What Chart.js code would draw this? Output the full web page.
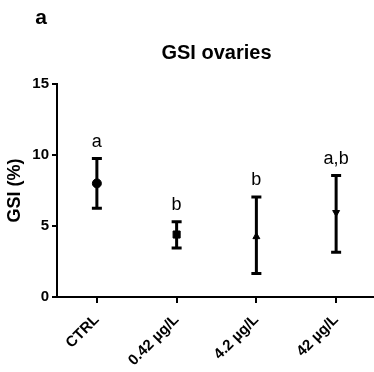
<!DOCTYPE html>
<html>
<head>
<meta charset="utf-8">
<script src="https://cdn.jsdelivr.net/npm/chart.js@4/dist/chart.umd.min.js"></script>
<style>
  html, body { margin: 0; padding: 0; background: #fff; overflow: hidden; }
  /* a bit wider than the window so the x axis runs off the right edge, as in the cropped original */
  #wrap { position: relative; width: 382px; height: 372px; }
</style>
</head>
<body>
<div id="wrap"><canvas id="gsiChart"></canvas></div>
<script>
// Data (mean and error bar ends, GSI %)
const groups = ['CTRL', '0.42 µg/L', '4.2 µg/L', '42 µg/L'];
const means = [8.0, 4.4, 4.25, 5.95];
const upper = [9.75, 5.3, 7.05, 8.55];
const lower = [6.25, 3.45, 1.65, 3.15];
const letters = ['a', 'b', 'b', 'a,b'];
const yTicks = [0, 5, 10, 15];

const FONT = '"Liberation Sans", Arial, sans-serif';

// Error bars with caps, drawn through the chart scales
const errorBars = {
    id: 'errorBars',
    beforeDatasetsDraw(chart) {
        const { ctx, scales: { x, y } } = chart;
        ctx.save();
        ctx.strokeStyle = '#000';
        ctx.lineWidth = 3;
        groups.forEach((g, i) => {
            const px = x.getPixelForValue(i);
            const top = y.getPixelForValue(upper[i]);
            const bot = y.getPixelForValue(lower[i]);
            ctx.beginPath();
            ctx.moveTo(px, top);
            ctx.lineTo(px, bot);
            ctx.moveTo(px - 5, top);
            ctx.lineTo(px + 5, top);
            ctx.moveTo(px - 5, bot);
            ctx.lineTo(px + 5, bot);
            ctx.stroke();
        });
        ctx.restore();
    }
};

// Significance letters above each bar, and the panel label
const annotations = {
    id: 'annotations',
    afterDatasetsDraw(chart) {
        const { ctx, scales: { x, y } } = chart;
        ctx.save();
        ctx.fillStyle = '#000';
        ctx.textAlign = 'center';
        ctx.textBaseline = 'middle';
        ctx.font = '18px ' + FONT;
        letters.forEach((l, i) => {
            ctx.fillText(l, x.getPixelForValue(i), y.getPixelForValue(upper[i]) - 17);
        });
        ctx.font = 'bold 21px ' + FONT;
        ctx.fillText('a', 41, 18);
        ctx.restore();
    }
};

new Chart(document.getElementById('gsiChart'), {
    type: 'scatter',
    data: {
        datasets: [{
            data: means.map((m, i) => ({ x: i, y: m })),
            backgroundColor: '#000',
            borderColor: '#000',
            pointStyle: ['circle', 'rect', 'triangle', 'triangle'],
            rotation: [0, 0, 0, 180],
            pointRadius: [4.5, 5, 4, 4],
            borderWidth: 1
        }]
    },
    options: {
        responsive: true,
        maintainAspectRatio: false,
        animation: false,
        layout: { padding: 0 },
        plugins: {
            legend: { display: false },
            tooltip: { enabled: false },
            title: {
                display: true,
                fullSize: false,
                text: 'GSI ovaries',
                color: '#000',
                font: { family: FONT, size: 20, weight: 'bold' },
                padding: { top: 41, bottom: 19 }
            }
        },
        scales: {
            x: {
                type: 'linear',
                min: -0.5,
                max: 3.5,
                afterBuildTicks: s => { s.ticks = groups.map((g, i) => ({ value: i })); },
                afterFit: s => { s.height = 75; },
                border: { color: '#000', width: 2 },
                grid: { drawOnChartArea: false, color: '#000', lineWidth: 2, tickLength: 6 },
                ticks: {
                    color: '#000',
                    font: { family: FONT, size: 15, weight: 'bold' },
                    maxRotation: 45,
                    minRotation: 45,
                    padding: 8,
                    callback: v => groups[v]
                }
            },
            y: {
                min: 0,
                max: 15,
                afterBuildTicks: s => { s.ticks = yTicks.map(v => ({ value: v })); },
                afterFit: s => { s.width = 57; },
                border: { color: '#000', width: 2 },
                grid: { drawOnChartArea: false, color: '#000', lineWidth: 2, tickLength: 5 },
                ticks: {
                    color: '#000',
                    font: { family: FONT, size: 15, weight: 'bold' },
                    padding: 3
                },
                title: {
                    display: true,
                    text: 'GSI (%)',
                    color: '#000',
                    font: { family: FONT, size: 18, weight: 'bold' },
                    padding: { top: 4, bottom: 0 }
                }
            }
        }
    },
    plugins: [errorBars, annotations]
});
</script>
</body>
</html>
